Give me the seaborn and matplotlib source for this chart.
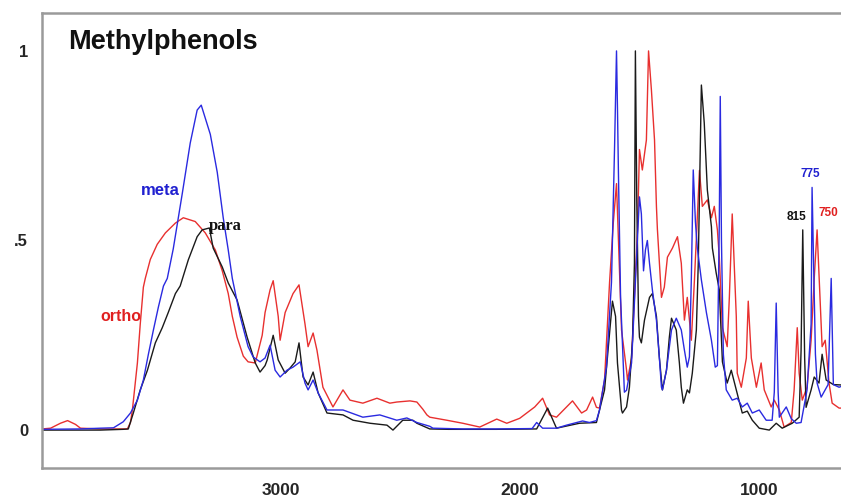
import matplotlib
matplotlib.use("Agg")
import matplotlib.pyplot as plt
import seaborn as sns
import pandas as pd

# ---------------- data (wavenumber cm-1, absorbance) ----------------
ortho_wn = [4000, 3964, 3923, 3893, 3860, 3839, 3756, 3701, 3643, 3630, 3622, 3601, 3589, 3576,
            3568, 3547, 3518, 3484, 3442, 3409, 3359, 3317, 3275, 3246, 3221, 3204, 3184, 3158,
            3138, 3108, 3079, 3067, 3046, 3033, 3012, 3004, 2983, 2950, 2925, 2900, 2887, 2866,
            2850, 2825, 2783, 2741, 2712, 2658, 2599, 2545, 2516, 2461, 2432, 2407, 2390, 2378,
            2307, 2240, 2169, 2098, 2056, 2002, 1939, 1906, 1877, 1848, 1781, 1743, 1722, 1697,
            1681, 1668, 1647, 1626, 1610, 1597, 1576, 1555, 1551, 1534, 1522, 1509, 1501, 1489,
            1472, 1463, 1451, 1438, 1430, 1426, 1409, 1397, 1384, 1363, 1342, 1326, 1313, 1301,
            1284, 1271, 1250, 1238, 1217, 1200, 1188, 1175, 1167, 1154, 1134, 1125, 1113, 1096,
            1092, 1075, 1054, 1046, 1033, 1012, 992, 979, 950, 937, 916, 896, 866, 854, 841, 833,
            820, 800, 783, 770, 758, 741, 737, 724, 708, 695, 666, 658]
ortho_ab = [0.003, 0.005, 0.018, 0.025, 0.015, 0.005, 0.003, 0.003, 0.003, 0.02, 0.053, 0.177,
            0.28, 0.377, 0.40, 0.45, 0.49, 0.52, 0.546, 0.56, 0.55, 0.52, 0.475, 0.42, 0.36, 0.30,
            0.245, 0.195, 0.18, 0.177, 0.25, 0.31, 0.37, 0.394, 0.30, 0.237, 0.31, 0.36, 0.383,
            0.28, 0.22, 0.256, 0.211, 0.113, 0.061, 0.106, 0.079, 0.071, 0.084, 0.071, 0.074,
            0.077, 0.074, 0.055, 0.04, 0.034, 0.026, 0.018, 0.008, 0.029, 0.018, 0.031, 0.061,
            0.084, 0.04, 0.034, 0.077, 0.045, 0.053, 0.087, 0.06, 0.058, 0.132, 0.39, 0.55, 0.65,
            0.264, 0.158, 0.132, 0.19, 0.35, 0.53, 0.74, 0.686, 0.765, 1.0, 0.897, 0.765, 0.59,
            0.53, 0.35, 0.377, 0.456, 0.48, 0.51, 0.44, 0.29, 0.35, 0.237, 0.396, 0.685, 0.59,
            0.607, 0.56, 0.59, 0.528, 0.456, 0.27, 0.22, 0.35, 0.57, 0.30, 0.15, 0.113, 0.19,
            0.34, 0.19, 0.113, 0.177, 0.106, 0.061, 0.079, 0.053, 0.008, 0.02, 0.106, 0.27, 0.15,
            0.079, 0.113, 0.237, 0.40, 0.528, 0.28, 0.22, 0.237, 0.124, 0.071, 0.058, 0.058]

meta_wn = [4000, 3839, 3756, 3701, 3660, 3630, 3601, 3576, 3555, 3534, 3513, 3492, 3476, 3451,
           3413, 3380, 3351, 3334, 3296, 3267, 3242, 3221, 3204, 3171, 3138, 3117, 3088, 3067,
           3046, 3025, 3004, 2975, 2950, 2920, 2900, 2887, 2866, 2845, 2808, 2741, 2658, 2587,
           2516, 2474, 2432, 2378, 2365, 2240, 2100, 1950, 1931, 1906, 1848, 1806, 1739, 1710,
           1681, 1668, 1639, 1618, 1605, 1597, 1593, 1589, 1580, 1564, 1555, 1534, 1514, 1501,
           1493, 1484, 1476, 1468, 1459, 1447, 1430, 1418, 1409, 1405, 1388, 1367, 1347, 1326,
           1313, 1301, 1292, 1284, 1276, 1267, 1259, 1242, 1221, 1200, 1184, 1175, 1167, 1163,
           1158, 1150, 1138, 1113, 1092, 1071, 1050, 1029, 1000, 971, 946, 937, 929, 921, 916,
           887, 866, 845, 825, 800, 783, 779, 770, 765, 758, 741, 712, 699, 690, 666, 658]
meta_ab = [0.002, 0.003, 0.005, 0.006, 0.022, 0.045, 0.079, 0.132, 0.2, 0.264, 0.325, 0.38, 0.40,
           0.478, 0.625, 0.757, 0.844, 0.857, 0.78, 0.68, 0.56, 0.475, 0.40, 0.30, 0.22, 0.193,
           0.18, 0.19, 0.224, 0.158, 0.14, 0.158, 0.166, 0.18, 0.124, 0.106, 0.132, 0.098, 0.053,
           0.053, 0.034, 0.04, 0.026, 0.032, 0.02, 0.01, 0.005, 0.003, 0.003, 0.004, 0.02, 0.005,
           0.005, 0.013, 0.024, 0.02, 0.025, 0.053, 0.166, 0.39, 0.75, 1.0, 0.85, 0.68, 0.35,
           0.10, 0.105, 0.177, 0.44, 0.615, 0.57, 0.42, 0.475, 0.50, 0.44, 0.37, 0.29, 0.193,
           0.113, 0.106, 0.158, 0.264, 0.295, 0.264, 0.211, 0.166, 0.193, 0.40, 0.686, 0.55, 0.48,
           0.396, 0.31, 0.237, 0.166, 0.17, 0.55, 0.88, 0.50, 0.20, 0.106, 0.079, 0.084, 0.061,
           0.071, 0.045, 0.053, 0.026, 0.026, 0.10, 0.335, 0.10, 0.034, 0.061, 0.03, 0.018, 0.02,
           0.106, 0.28, 0.64, 0.35, 0.2, 0.124, 0.087, 0.12, 0.40, 0.12, 0.113, 0.115]

para_wn = [4000, 3756, 3660, 3639, 3618, 3589, 3559, 3526, 3497, 3472, 3442, 3422, 3388, 3351,
           3330, 3300, 3284, 3246, 3221, 3184, 3142, 3108, 3088, 3067, 3058, 3033, 3012, 2983,
           2962, 2941, 2925, 2908, 2887, 2866, 2845, 2808, 2741, 2699, 2628, 2557, 2532, 2491,
           2449, 2432, 2378, 2300, 2100, 1931, 1885, 1848, 1752, 1681, 1647, 1626, 1614, 1601,
           1593, 1576, 1572, 1555, 1543, 1530, 1522, 1518, 1512, 1505, 1501, 1493, 1480, 1459,
           1447, 1430, 1418, 1409, 1405, 1388, 1376, 1367, 1347, 1334, 1326, 1317, 1301, 1292,
           1280, 1263, 1255, 1242, 1230, 1217, 1200, 1196, 1180, 1167, 1154, 1134, 1117, 1096,
           1071, 1050, 1029, 1000, 958, 929, 904, 862, 833, 825, 818, 810, 804, 783, 770, 750,
           737, 720, 690, 658]
para_ab = [0.0, 0.0, 0.002, 0.003, 0.045, 0.106, 0.158, 0.23, 0.27, 0.31, 0.36, 0.38, 0.449, 0.51,
           0.528, 0.533, 0.48, 0.43, 0.388, 0.343, 0.245, 0.177, 0.153, 0.17, 0.185, 0.25, 0.185,
           0.15, 0.164, 0.18, 0.23, 0.14, 0.119, 0.153, 0.098, 0.045, 0.04, 0.026, 0.018, 0.013,
           0.0, 0.026, 0.026, 0.018, 0.003, 0.002, 0.002, 0.003, 0.058, 0.005, 0.018, 0.02, 0.106,
           0.256, 0.34, 0.30, 0.177, 0.053, 0.045, 0.061, 0.113, 0.237, 0.44, 1.0, 0.6, 0.30,
           0.245, 0.23, 0.29, 0.35, 0.36, 0.30, 0.193, 0.132, 0.106, 0.158, 0.245, 0.295, 0.264,
           0.177, 0.113, 0.071, 0.106, 0.098, 0.15, 0.264, 0.44, 0.91, 0.81, 0.633, 0.536, 0.48,
           0.414, 0.37, 0.18, 0.124, 0.158, 0.106, 0.045, 0.05, 0.026, 0.005, 0.0, 0.018, 0.005,
           0.018, 0.034, 0.21, 0.528, 0.19, 0.06, 0.106, 0.14, 0.124, 0.2, 0.132, 0.12, 0.119]

series_names = ["ortho", "para", "meta"]
series_colors = {"ortho": "#e8302f", "para": "#1a1a1a", "meta": "#2a2ae0"}
x_ticks = [3000, 2000, 1000]
y_ticks = [0, 0.5, 1]
y_tick_labels = ["0", ".5", "1"]
title_text = "Methylphenols"

frames = []
for name, wn, ab in [("ortho", ortho_wn, ortho_ab), ("para", para_wn, para_ab),
                     ("meta", meta_wn, meta_ab)]:
    frames.append(pd.DataFrame({"wavenumber": wn, "absorbance": ab, "isomer": name}))
df = pd.concat(frames, ignore_index=True)

# ---------------- figure ----------------
sns.set_style("white")
plt.rcParams["font.family"] = ["Liberation Sans", "DejaVu Sans"]

fig = plt.figure(figsize=(8.41, 5.01), dpi=100)
ax = fig.add_axes([42 / 841, 33 / 501, 799 / 841, 455 / 501])

for name in series_names:
    sub = df[df["isomer"] == name]
    sns.lineplot(data=sub, x="wavenumber", y="absorbance", ax=ax, sort=False,
                 estimator=None, color=series_colors[name], linewidth=1.0, legend=False)

ax.set_xlim(4000, 658)
ax.set_ylim(-0.1, 1.1)
ax.set_xticks(x_ticks)
ax.set_xticklabels([str(t) for t in x_ticks], fontsize=12.5, fontweight="bold")
ax.set_yticks(y_ticks)
ax.set_yticklabels(y_tick_labels, fontsize=12, fontweight="bold")
ax.set_xlabel("")
ax.set_ylabel("")
ax.tick_params(axis="both", which="both", length=6, width=1, color="#a0a0a0",
               direction="out", pad=4)
ax.tick_params(axis="x", pad=5)

for side in ["left", "bottom", "top"]:
    ax.spines[side].set_color("#9a9a9a")
    ax.spines[side].set_linewidth(1.8)
ax.spines["right"].set_visible(False)

ax.text(0.033, 0.936, title_text, transform=ax.transAxes, fontsize=19.5,
        fontweight="bold", va="center", ha="left", color="#111111")

ax.text(3505, 0.633, "meta", color="#2020d0", fontsize=12, fontweight="bold",
        ha="center", va="center")
ax.text(3234, 0.538, "para", color="#111111", fontsize=12, fontweight="bold",
        ha="center", va="center", family=["Liberation Serif", "DejaVu Serif"])
ax.text(3668, 0.30, "ortho", color="#e02020", fontsize=11.5, fontweight="bold",
        ha="center", va="center")
ax.text(787, 0.675, "775", color="#2020d0", fontsize=8.5, fontweight="bold",
        ha="center", va="center")
ax.text(846, 0.562, "815", color="#111111", fontsize=8.5, fontweight="bold",
        ha="center", va="center")
ax.text(712, 0.573, "750", color="#e02020", fontsize=8.5, fontweight="bold",
        ha="center", va="center")

fig.savefig("out.png", dpi=100)
